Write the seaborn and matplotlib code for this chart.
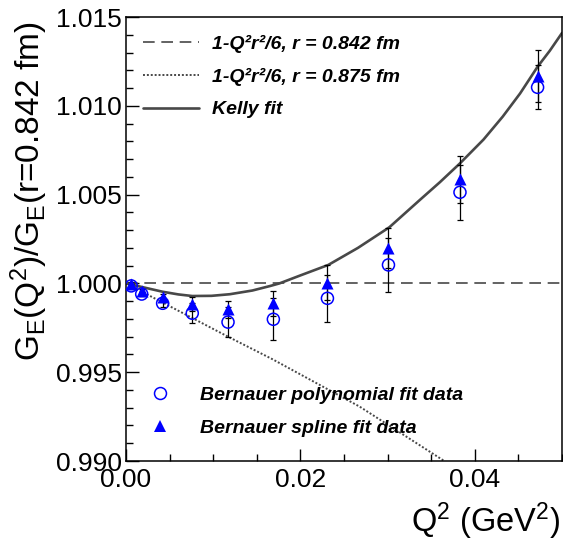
import matplotlib
matplotlib.use('Agg')
import pandas as pd
import matplotlib.pyplot as plt
import seaborn as sns
from matplotlib.ticker import MultipleLocator, FormatStrFormatter
from matplotlib.lines import Line2D

# data
q2 = [0.0006, 0.0018, 0.0042, 0.0076, 0.0117, 0.0169, 0.0231, 0.0301, 0.0383, 0.0472]
poly = [0.99986, 0.99940, 0.99888, 0.99832, 0.99782, 0.99798, 0.99916, 1.00104, 1.00513, 1.01104]
poly_err = [0.0001, 0.0001, 0.0002, 0.00056, 0.00084, 0.00117, 0.00132, 0.00152, 0.00156, 0.00124]
spline = [0.99997, 0.99959, 0.99925, 0.99884, 0.99854, 0.99888, 1.00004, 1.00199, 1.00586, 1.01168]
spline_err = [0.0001, 0.0001, 0.00015, 0.0004, 0.00048, 0.00071, 0.0010, 0.00113, 0.00131, 0.00146]

# curves
dash_q2 = [0.0, 0.05]
dash_ratio = [1.0, 1.0]
dot_q2 = [0.0, 0.0117, 0.0168, 0.0268, 0.0365]
dot_ratio = [1.0, 0.9970, 0.99573, 0.99306, 0.9900]
kelly_q2 = [0.0, 0.0018, 0.0042, 0.0060, 0.0076, 0.0098, 0.0119, 0.0145, 0.0165, 0.0176,
            0.0200, 0.0232, 0.0266, 0.0302, 0.0337, 0.0360, 0.0383, 0.0410, 0.0432,
            0.0452, 0.0472, 0.0486, 0.0500]
kelly_ratio = [1.0000, 0.99980, 0.99953, 0.99938, 0.99929, 0.99930, 0.99939, 0.99960, 0.99985,
               1.0000, 1.00045, 1.00104, 1.0020, 1.00316, 1.0047, 1.0057, 1.00676, 1.0081,
               1.00939, 1.0107, 1.0122, 1.0131, 1.0141]

labels = ['1-Q\u00b2r\u00b2/6, r = 0.842 fm',
          '1-Q\u00b2r\u00b2/6, r = 0.875 fm',
          'Kelly fit']
point_labels = ['Bernauer polynomial fit data', 'Bernauer spline fit data']

sns.set_theme(style='white')
plt.rcParams['font.family'] = ['Liberation Sans', 'DejaVu Sans']
plt.rcParams['mathtext.fontset'] = 'custom'
plt.rcParams['mathtext.rm'] = 'Liberation Sans'
plt.rcParams['mathtext.it'] = 'Liberation Sans:italic'
plt.rcParams['text.color'] = 'black'
plt.rcParams['axes.labelcolor'] = 'black'

fig, ax = plt.subplots(figsize=(5.63, 5.43), dpi=100)
fig.subplots_adjust(left=126/563, right=562/563, bottom=1-461/543, top=1-17/543)

line_col = '#484848'
sns.lineplot(x=dash_q2, y=dash_ratio, ax=ax, color=line_col, lw=1.2,
             linestyle=(0, (7, 4)), estimator=None, sort=False)
sns.lineplot(x=dot_q2, y=dot_ratio, ax=ax, color=line_col, lw=1.4,
             linestyle=(0, (1, 1)), estimator=None, sort=False)
sns.lineplot(x=kelly_q2, y=kelly_ratio, ax=ax, color=line_col, lw=1.9,
             estimator=None, sort=False)

# error bars
ax.errorbar(q2, poly, yerr=poly_err, fmt='none', ecolor='black', elinewidth=0.9,
            capsize=2.5, capthick=0.9, zorder=3)
ax.errorbar(q2, spline, yerr=spline_err, fmt='none', ecolor='black', elinewidth=0.9,
            capsize=2.5, capthick=0.9, zorder=3)

# markers
sns.scatterplot(x=q2, y=poly, ax=ax, marker='o', s=75, zorder=4)
ax.collections[-1].set_facecolor('none')
ax.collections[-1].set_edgecolor('blue')
ax.collections[-1].set_linewidth(1.1)
sns.scatterplot(x=q2, y=spline, ax=ax, marker='^', s=75, color='blue',
                edgecolor='blue', linewidth=0, zorder=5)

ax.set_xlim(0, 0.05)
ax.set_ylim(0.990, 1.015)
ax.xaxis.set_major_locator(MultipleLocator(0.02))
ax.xaxis.set_minor_locator(MultipleLocator(0.005))
ax.yaxis.set_major_locator(MultipleLocator(0.005))
ax.yaxis.set_minor_locator(MultipleLocator(0.001))
ax.xaxis.set_major_formatter(FormatStrFormatter('%.2f'))
ax.yaxis.set_major_formatter(FormatStrFormatter('%.3f'))
ax.tick_params(axis='both', which='both', direction='in', top=False, right=False,
               left=True, bottom=True, width=1, color='black', labelcolor='black')
ax.tick_params(axis='y', which='major', length=9.5, pad=3, labelsize=19)
ax.tick_params(axis='x', which='major', length=9, pad=5, labelsize=19)
ax.tick_params(axis='both', which='minor', length=5)
for sp in ax.spines.values():
    sp.set_color('black')
    sp.set_linewidth(1.1)

ax.set_xlabel('Q$^{2}$ (GeV$^{2}$)', fontsize=23.5, labelpad=8)
ax.xaxis.set_label_coords(0.996, -0.09)
ax.xaxis.label.set_horizontalalignment('right')
ax.set_ylabel('G$_{\\rm E}$(Q$^{2}$)/G$_{\\rm E}$(r=0.842 fm)', fontsize=24)
ax.yaxis.set_label_coords(-0.175, 0.607)

prop = {'weight': 'bold', 'style': 'italic', 'size': 14}
h1 = [Line2D([], [], color=line_col, lw=1.2, ls=(0, (7, 4))),
      Line2D([], [], color=line_col, lw=1.4, ls=(0, (1, 1))),
      Line2D([], [], color=line_col, lw=1.9)]
leg1 = ax.legend(h1, labels, loc='upper left', bbox_to_anchor=(17/436, 0.959),
                 frameon=False, prop=prop, handlelength=2.9, handletextpad=0.65,
                 labelspacing=0.76, borderpad=0, borderaxespad=0, labelcolor='black')
ax.add_artist(leg1)
h2 = [Line2D([], [], marker='o', ls='none', mfc='none', mec='blue', mew=1.1, ms=8.6),
      Line2D([], [], marker='^', ls='none', mfc='blue', mec='blue', mew=0, ms=8.6)]
ax.legend(h2, point_labels, loc='upper left', bbox_to_anchor=(14.6/436, 0.168),
          frameon=False, prop=prop, handlelength=2.0, handletextpad=1.05,
          labelspacing=0.8, borderpad=0, borderaxespad=0, labelcolor='black')

fig.savefig('out.png', dpi=100)
